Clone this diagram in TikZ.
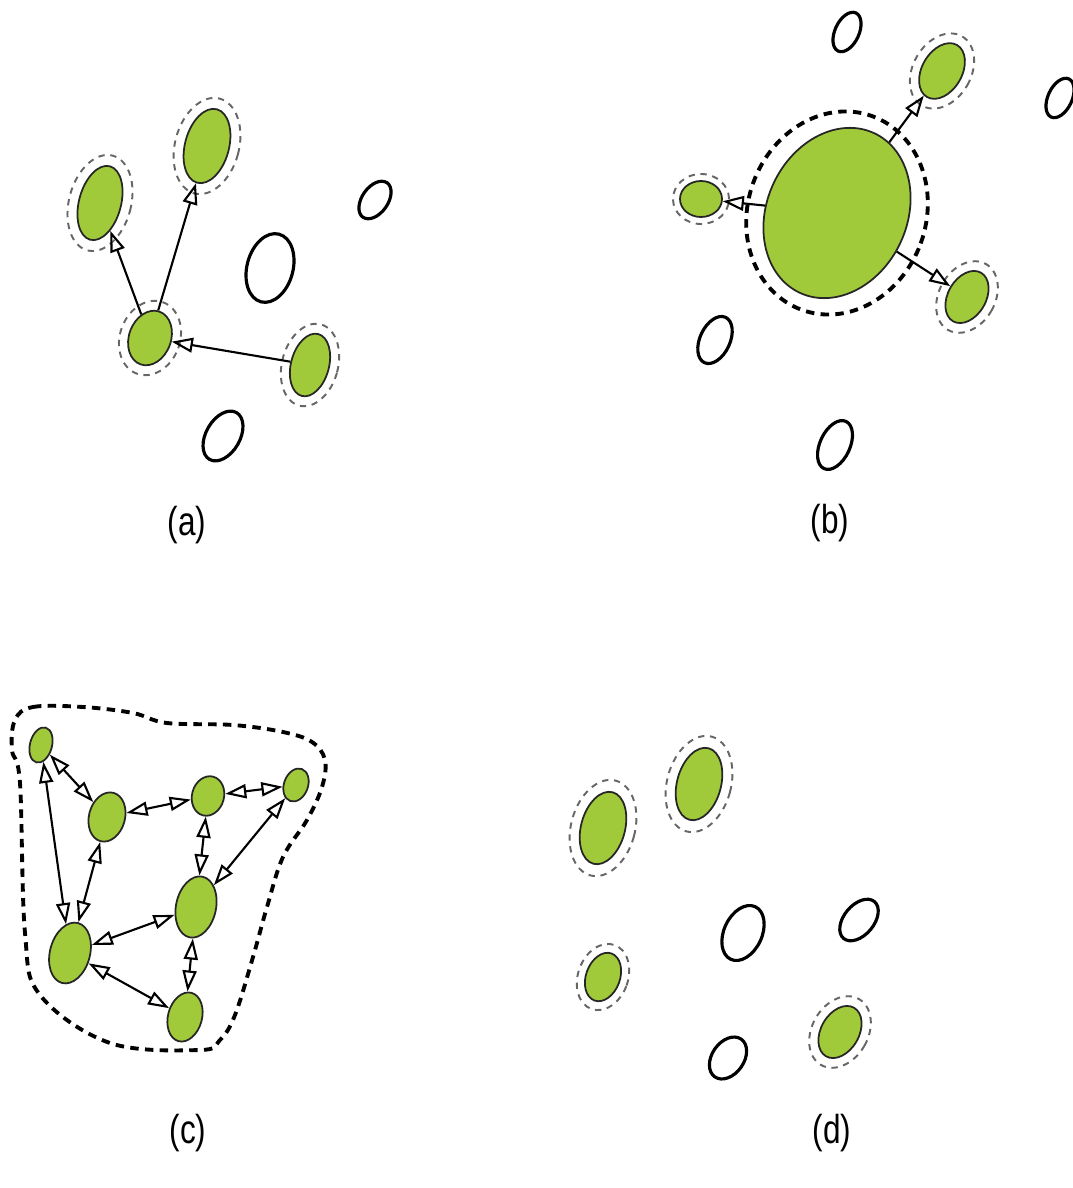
\documentclass[tikz,border=0pt]{standalone}
\usepackage{fontspec}
\usepackage{tikz}
\usetikzlibrary{arrows.meta, shapes.geometric}
\usepackage{xcolor}
\definecolor{cellgreen}{RGB}{160,202,58}
\newfontfamily\tagfont[FakeStretch=0.78]{Liberation Sans}

\begin{document}
\begin{tikzpicture}[x=0.01cm, y=-0.01cm,
  dims/.style 2 args={minimum width=#1cm, minimum height=#2cm},
  cell/.style={ellipse, draw=black!85, line width=0.5pt, fill=cellgreen, inner sep=0pt},
  idle/.style={ellipse, draw=black, line width=0.9pt, inner sep=0pt},
  halo/.style={ellipse, draw=black!60, line width=0.55pt, dash pattern=on 1.8pt off 1.6pt, inner sep=0pt},
  bighalo/.style={ellipse, draw=black, line width=1.1pt, dash pattern=on 2.4pt off 1.8pt, inner sep=0pt},
  arr/.style={-{Triangle[open, length=6pt, width=4.2pt]}, line width=0.6pt},
  barr/.style={{Triangle[open, length=6pt, width=4pt]}-{Triangle[open, length=6pt, width=4pt]}, line width=0.6pt},
  tag/.style={font=\tagfont\fontsize{11.5}{12}\selectfont}
]
\useasboundingbox (0,0) rectangle (1072,1188);

% (a)
\node[cell, dims={0.42}{0.76}, rotate=-15] (a1) at (100,203) {};
\node[cell, dims={0.44}{0.76}, rotate=-15] (a2) at (207,146) {};
\node[cell, dims={0.42}{0.56}, rotate=-20] (a3) at (150,338) {};
\node[cell, dims={0.38}{0.64}, rotate=-15] (a4) at (310,365) {};
\node[halo, dims={0.62}{0.98}, rotate=-15] (a1h) at (a1) {};
\node[halo, dims={0.64}{0.98}, rotate=-15] (a2h) at (a2) {};
\node[halo, dims={0.60}{0.76}, rotate=-20] (a3h) at (a3) {};
\node[halo, dims={0.56}{0.84}, rotate=-15] (a4h) at (a4) {};
\node[idle, dims={0.46}{0.70}, rotate=-15] (a5) at (270,268) {};
\node[idle, dims={0.26}{0.42}, rotate=-35] (a6) at (375,200) {};
\node[idle, dims={0.34}{0.54}, rotate=-30] (a7) at (223,436) {};
\draw[arr] (a3) -- (a1);
\draw[arr] (a3) -- (a2);
\draw[arr] (a4) -- (a3);
\node[tag] (atag) at (187,525) {(a)};

% (b)
\node[cell, dims={1.40}{1.76}, rotate=-25] (b1) at (837,213) {};
\node[bighalo, dims={1.78}{2.06}, rotate=-20] (b1h) at (b1) {};
\node[cell, dims={0.42}{0.36}] (b2) at (701,199) {};
\node[cell, dims={0.40}{0.60}, rotate=-30] (b3) at (942,71) {};
\node[cell, dims={0.38}{0.56}, rotate=-30] (b4) at (967,297) {};
\node[halo, dims={0.56}{0.50}] (b2h) at (b2) {};
\node[halo, dims={0.58}{0.80}, rotate=-30] (b3h) at (b3) {};
\node[halo, dims={0.56}{0.76}, rotate=-30] (b4h) at (b4) {};
\node[idle, dims={0.24}{0.42}, rotate=-25] (b5) at (847,32) {};
\node[idle, dims={0.24}{0.42}, rotate=-25] (b6) at (1060,98) {};
\node[idle, dims={0.30}{0.50}, rotate=-25] (b7) at (715,340) {};
\node[idle, dims={0.30}{0.52}, rotate=-25] (b8) at (835,445) {};
\draw[arr] (b1) -- (b2);
\draw[arr] (b1) -- (b3);
\draw[arr] (b1) -- (b4);
\node[tag] (btag) at (830,523) {(b)};

% (c)
\draw[line width=1.1pt, dash pattern=on 2.4pt off 1.8pt] plot[smooth cycle, tension=0.6] coordinates {
  (15,720) (33,707) (83,707) (133,713) (167,723) (233,725) (283,732) (312,742)
  (325,760) (322,787) (307,820) (283,857) (267,907) (253,957) (235,1015)
  (220,1040) (200,1050) (110,1043) (40,995) (25,933) (20,783) (12,750)};
\node[cell, dims={0.22}{0.36}, rotate=-15] (c1) at (41,745) {};
\node[cell, dims={0.36}{0.50}, rotate=-15] (c2) at (107,817) {};
\node[cell, dims={0.32}{0.40}, rotate=-15] (c3) at (208,796) {};
\node[cell, dims={0.24}{0.34}, rotate=-20] (c4) at (296,785) {};
\node[cell, dims={0.40}{0.62}, rotate=-12] (c5) at (196,907) {};
\node[cell, dims={0.40}{0.62}, rotate=-15] (c6) at (70,953) {};
\node[cell, dims={0.34}{0.50}, rotate=-15] (c7) at (185,1017) {};
\draw[barr] (c1) -- (c2);
\draw[barr] (c1) -- (c6);
\draw[barr] (c2) -- (c3);
\draw[barr] (c2) -- (c6);
\draw[barr] (c3) -- (c4);
\draw[barr] (c3) -- (c5);
\draw[barr] (c4) -- (c5);
\draw[barr] (c5) -- (c6);
\draw[barr] (c5) -- (c7);
\draw[barr] (c6) -- (c7);
\node[tag] (ctag) at (188,1133) {(c)};

% (d)
\node[cell, dims={0.44}{0.74}, rotate=-15] (d1) at (603,828) {};
\node[cell, dims={0.44}{0.74}, rotate=-15] (d2) at (699,784) {};
\node[cell, dims={0.34}{0.50}, rotate=-20] (d3) at (603,977) {};
\node[cell, dims={0.38}{0.56}, rotate=-30] (d4) at (840,1032) {};
\node[halo, dims={0.64}{0.98}, rotate=-15] (d1h) at (d1) {};
\node[halo, dims={0.64}{0.98}, rotate=-15] (d2h) at (d2) {};
\node[halo, dims={0.50}{0.68}, rotate=-20] (d3h) at (d3) {};
\node[halo, dims={0.56}{0.76}, rotate=-30] (d4h) at (d4) {};
\node[idle, dims={0.38}{0.58}, rotate=-25] (d5) at (743,933) {};
\node[idle, dims={0.30}{0.48}, rotate=-40] (d6) at (859,920) {};
\node[idle, dims={0.32}{0.46}, rotate=-35] (d7) at (728,1058) {};
\node[tag] (dtag) at (832,1133) {(d)};
\end{tikzpicture}
\end{document}
